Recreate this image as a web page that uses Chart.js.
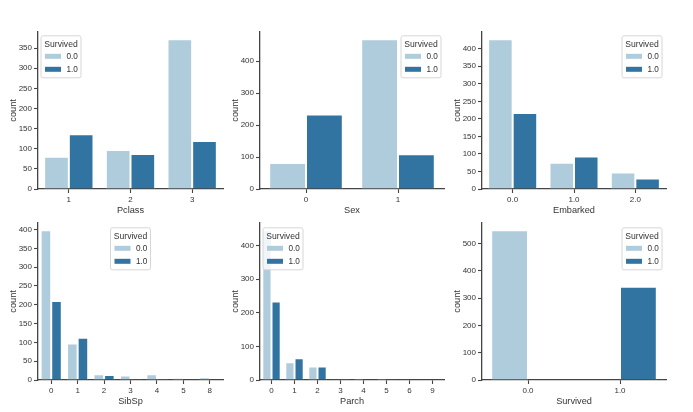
<!DOCTYPE html>
<html>
<head>
<meta charset="utf-8">
<script src="https://cdn.jsdelivr.net/npm/chart.js@4.4.1/dist/chart.umd.min.js"></script>
<style>
  html, body { margin: 0; padding: 0; background: #ffffff; }
  #wrap { position: relative; width: 693px; height: 412px; overflow: hidden; background: #fff; }
  canvas { position: absolute; }
</style>
</head>
<body>
<div id="wrap"></div>
<script>
// ---- data ----
const seriesLabels = ['0.0', '1.0'];
const legendTitle = 'Survived';

const pclassCats = ['1', '2', '3'];
const pclassDied = [80, 97, 372];
const pclassSurv = [136, 87, 119];
const pclassTicks = [0, 50, 100, 150, 200, 250, 300, 350];

const sexCats = ['0', '1'];
const sexDied = [81, 468];
const sexSurv = [233, 109];
const sexTicks = [0, 100, 200, 300, 400];

const embarkedCats = ['0.0', '1.0', '2.0'];
const embarkedDied = [427, 75, 47];
const embarkedSurv = [217, 93, 30];
const embarkedTicks = [0, 50, 100, 150, 200, 250, 300, 350, 400];

const sibspCats = ['0', '1', '2', '3', '4', '5', '8'];
const sibspDied = [398, 97, 15, 12, 15, 5, 7];
const sibspSurv = [210, 112, 13, 4, 3, 0, 0];
const sibspTicks = [0, 50, 100, 150, 200, 250, 300, 350, 400];

const parchCats = ['0', '1', '2', '3', '4', '5', '6', '9'];
const parchDied = [445, 53, 40, 2, 4, 4, 1, null];
const parchSurv = [233, 65, 40, 3, 0, 1, 0, null];
const parchTicks = [0, 100, 200, 300, 400];

const survivedCats = ['0.0', '1.0'];
const survivedDied = [549, null];
const survivedSurv = [null, 342];
const survivedTicks = [0, 100, 200, 300, 400, 500];

// ---- style ----
const LIGHT = '#aeccdc';
const DARK = '#3274a1';
const INK = '#333333';
const FONT = "'Liberation Sans', Arial, sans-serif";

const insetLegend = {
  id: 'insetLegend',
  afterDraw(chart) {
    const o = chart.options.plugins.insetLegend;
    if (!o) return;
    const ca = chart.chartArea;
    const w = 40, h = 42;
    let left;
    if (o.anchor === 'left') left = ca.left + o.dx;
    else if (o.anchor === 'right') left = ca.right - o.dx - w;
    else left = (ca.left + ca.right) / 2 - w / 2;
    const top = ca.top + o.dy;
    const ctx = chart.ctx;
    ctx.save();
    ctx.beginPath();
    const r = 2;
    ctx.moveTo(left + r, top);
    ctx.lineTo(left + w - r, top);
    ctx.arcTo(left + w, top, left + w, top + r, r);
    ctx.lineTo(left + w, top + h - r);
    ctx.arcTo(left + w, top + h, left + w - r, top + h, r);
    ctx.lineTo(left + r, top + h);
    ctx.arcTo(left, top + h, left, top + h - r, r);
    ctx.lineTo(left, top + r);
    ctx.arcTo(left, top, left + r, top, r);
    ctx.closePath();
    ctx.fillStyle = 'rgba(255,255,255,0.8)';
    ctx.fill();
    ctx.strokeStyle = '#d6d6d6';
    ctx.lineWidth = 1;
    ctx.stroke();
    ctx.fillStyle = INK;
    ctx.font = '8.6px ' + FONT;
    ctx.textAlign = 'center';
    ctx.textBaseline = 'middle';
    ctx.fillText(o.title, left + w / 2, top + 8.5);
    const cols = [LIGHT, DARK];
    o.labels.forEach((lab, i) => {
      const cy = top + 20.5 + i * 13;
      ctx.fillStyle = cols[i];
      ctx.fillRect(left + 4, cy - 2.5, 16, 5);
      ctx.fillStyle = INK;
      ctx.font = '8.2px ' + FONT;
      ctx.textAlign = 'left';
      ctx.fillText(lab, left + 25.5, cy + 0.5);
    });
    ctx.restore();
  }
};

function makePanel(p) {
  const YW = 36, PT = 4, PR = 4, XH = 28;
  const cv = document.createElement('canvas');
  const left = p.L - YW, top = p.T - PT;
  const width = (p.R - p.L) + YW + PR;
  const height = (p.B - p.T) + PT + XH;
  cv.width = width; cv.height = height;
  cv.style.left = left + 'px'; cv.style.top = top + 'px';
  cv.style.width = width + 'px'; cv.style.height = height + 'px';
  document.getElementById('wrap').appendChild(cv);
  const maxVal = Math.max(...p.died.filter(v => v != null), ...p.surv.filter(v => v != null)) * 1.05;
  new Chart(cv.getContext('2d'), {
    type: 'bar',
    data: {
      labels: p.cats,
      datasets: [
        { label: seriesLabels[0], data: p.died, backgroundColor: LIGHT, borderColor: 'rgba(255,255,255,0.55)', borderWidth: 1 },
        { label: seriesLabels[1], data: p.surv, backgroundColor: DARK, borderColor: 'rgba(255,255,255,0.55)', borderWidth: 1 }
      ]
    },
    options: {
      responsive: false,
      animation: false,
      devicePixelRatio: 1,
      layout: { padding: { top: PT, right: PR, left: 0, bottom: 0 } },
      datasets: { bar: { categoryPercentage: 0.8, barPercentage: 1.0 } },
      plugins: {
        legend: { display: false },
        tooltip: { enabled: false },
        insetLegend: { anchor: p.anchor, dx: p.dx, dy: p.dy, title: legendTitle, labels: seriesLabels }
      },
      scales: {
        x: {
          offset: true,
          grid: { display: true, offset: false, drawOnChartArea: false, drawTicks: true, tickLength: 4, tickColor: '#444', tickWidth: 1.1 },
          border: { display: true, color: '#444', width: 1.3 },
          ticks: { color: INK, font: { family: FONT, size: 8 }, padding: 2, maxRotation: 0, autoSkip: false },
          title: { display: true, text: p.xTitle, color: INK, font: { family: FONT, size: 9.2 }, padding: { top: 0, bottom: 1.5 } },
          afterFit(s) { s.height = XH; }
        },
        y: {
          min: 0,
          max: maxVal,
          grid: { display: true, drawOnChartArea: false, drawTicks: true, tickLength: 4, tickColor: '#444', tickWidth: 1.1 },
          border: { display: true, color: '#444', width: 1.3 },
          ticks: { color: INK, font: { family: FONT, size: 8 }, padding: 2, autoSkip: false },
          afterBuildTicks(s) { s.ticks = p.ticks.map(v => ({ value: v })); },
          title: { display: true, text: 'count', color: INK, font: { family: FONT, size: 9.2 }, padding: { top: 5.5, bottom: 0 } },
          afterFit(s) { s.width = YW; }
        }
      }
    },
    plugins: [insetLegend]
  });
}

makePanel({ L: 38, R: 223, T: 29, B: 189, cats: pclassCats, died: pclassDied, surv: pclassSurv, ticks: pclassTicks, xTitle: 'Pclass', anchor: 'left', dx: 3, dy: 4 });
makePanel({ L: 260, R: 444, T: 29, B: 189, cats: sexCats, died: sexDied, surv: sexSurv, ticks: sexTicks, xTitle: 'Sex', anchor: 'right', dx: 3, dy: 4 });
makePanel({ L: 482, R: 666, T: 29, B: 189, cats: embarkedCats, died: embarkedDied, surv: embarkedSurv, ticks: embarkedTicks, xTitle: 'Embarked', anchor: 'right', dx: 4, dy: 4 });
makePanel({ L: 38, R: 223, T: 220, B: 380, cats: sibspCats, died: sibspDied, surv: sibspSurv, ticks: sibspTicks, xTitle: 'SibSp', anchor: 'center', dx: 0, dy: 5 });
makePanel({ L: 260, R: 444, T: 220, B: 380, cats: parchCats, died: parchDied, surv: parchSurv, ticks: parchTicks, xTitle: 'Parch', anchor: 'left', dx: 3, dy: 5 });
makePanel({ L: 482, R: 666, T: 220, B: 380, cats: survivedCats, died: survivedDied, surv: survivedSurv, ticks: survivedTicks, xTitle: 'Survived', anchor: 'right', dx: 4, dy: 5 });
</script>
</body>
</html>
